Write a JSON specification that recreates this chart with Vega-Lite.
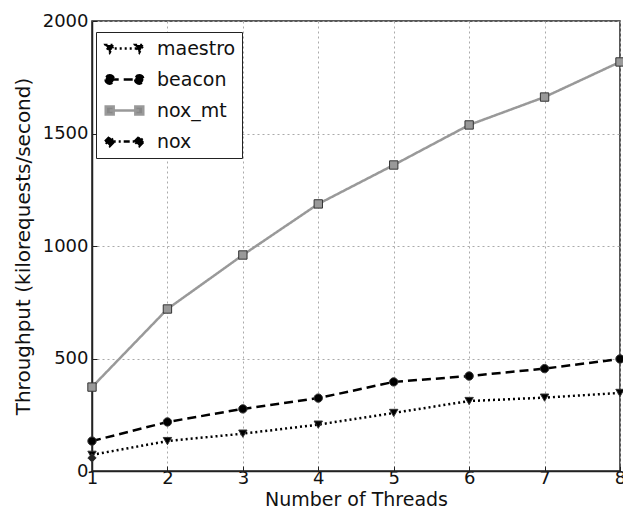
{
  "$schema": "https://vega.github.io/schema/vega-lite/v6.json",
  "width": 528,
  "height": 450,
  "autosize": "none",
  "padding": {"left": 92, "top": 21, "right": 3, "bottom": 44},
  "background": "white",
  "config": {
    "font": "DejaVu Sans",
    "view": {"stroke": "#222", "strokeWidth": 1.5},
    "axis": {
      "labelFont": "DejaVu Sans",
      "titleFont": "DejaVu Sans",
      "labelFontSize": 18,
      "titleFontSize": 18,
      "labelColor": "#111",
      "titleColor": "#111",
      "titleFontWeight": "normal",
      "grid": true,
      "gridColor": "#aaa",
      "gridDash": [2, 3],
      "gridWidth": 1,
      "domainColor": "#222",
      "domainWidth": 1.5,
      "tickColor": "#222",
      "tickSize": 5
    }
  },
  "data": {
    "values": [
      {"threads": 1, "series": "maestro", "value": 72},
      {"threads": 2, "series": "maestro", "value": 133},
      {"threads": 3, "series": "maestro", "value": 166},
      {"threads": 4, "series": "maestro", "value": 206},
      {"threads": 5, "series": "maestro", "value": 258},
      {"threads": 6, "series": "maestro", "value": 311},
      {"threads": 7, "series": "maestro", "value": 326},
      {"threads": 8, "series": "maestro", "value": 347},
      {"threads": 1, "series": "beacon", "value": 133},
      {"threads": 2, "series": "beacon", "value": 218},
      {"threads": 3, "series": "beacon", "value": 276},
      {"threads": 4, "series": "beacon", "value": 324},
      {"threads": 5, "series": "beacon", "value": 396},
      {"threads": 6, "series": "beacon", "value": 422},
      {"threads": 7, "series": "beacon", "value": 455},
      {"threads": 8, "series": "beacon", "value": 498},
      {"threads": 1, "series": "nox_mt", "value": 373},
      {"threads": 2, "series": "nox_mt", "value": 720},
      {"threads": 3, "series": "nox_mt", "value": 960},
      {"threads": 4, "series": "nox_mt", "value": 1187},
      {"threads": 5, "series": "nox_mt", "value": 1360},
      {"threads": 6, "series": "nox_mt", "value": 1538},
      {"threads": 7, "series": "nox_mt", "value": 1662},
      {"threads": 8, "series": "nox_mt", "value": 1818},
      {"threads": 1, "series": "nox", "value": 58}
    ]
  },
  "encoding": {
    "x": {
      "field": "threads",
      "type": "quantitative",
      "scale": {"domain": [1, 8], "nice": false, "zero": false},
      "axis": {"title": "Number of Threads", "titleFontSize": 19, "values": [1, 2, 3, 4, 5, 6, 7, 8], "labelPadding": 3, "titlePadding": 3, "tickSize": -5, "labelFlush": false}
    },
    "y": {
      "field": "value",
      "type": "quantitative",
      "scale": {"domain": [0, 2000], "nice": false},
      "axis": {"title": "Throughput (kilorequests/second)", "titleFontSize": 20, "format": "d", "values": [0, 500, 1000, 1500, 2000], "labelPadding": 9, "titlePadding": 9, "tickSize": -5, "labelFlush": false}
    },
    "color": {
      "field": "series",
      "type": "nominal",
      "scale": {"domain": ["beacon", "maestro", "nox", "nox_mt"], "range": ["#000000", "#000000", "#222222", "#999999"]},
      "legend": null
    }
  },
  "layer": [
    {
      "mark": {"type": "line", "strokeWidth": 2.5},
      "encoding": {
        "strokeDash": {
          "field": "series",
          "type": "nominal",
          "scale": {"domain": ["maestro", "beacon", "nox_mt", "nox"], "range": [[2, 3], [9, 5], [1, 0], [6, 3, 2, 3]]},
          "legend": {
            "title": null,
            "orient": "none",
            "legendX": 4,
            "legendY": 11,
            "strokeColor": "#222",
            "fillColor": "white",
            "padding": 6,
            "symbolOffset": 12,
            "labelOffset": 22,
            "labelFontSize": 19,
            "labelFont": "DejaVu Sans",
            "labelColor": "#111",
            "symbolSize": 342,
            "rowPadding": 10,
            "encode": {
              "symbols": {
                "update": {
                  "shape": {"signal": "datum.value === 'maestro' ? 'M-1.6,0L1.6,0M-2.05,-0.38L-1.15,-0.38L-1.6,0.42ZM1.15,-0.38L2.05,-0.38L1.6,0.42Z' : datum.value === 'beacon' ? 'M-1.6,0L1.6,0M-2.05,0A0.45,0.45 0 1,0 -1.15,0A0.45,0.45 0 1,0 -2.05,0ZM1.15,0A0.45,0.45 0 1,0 2.05,0A0.45,0.45 0 1,0 1.15,0Z' : datum.value === 'nox_mt' ? 'M-1.6,0L1.6,0M-2.03,-0.43H-1.17V0.43H-2.03ZM1.17,-0.43H2.03V0.43H1.17Z' : 'M-1.6,0L1.6,0M-2.1,0L-1.6,-0.5L-1.1,0L-1.6,0.5ZM1.1,0L1.6,-0.5L2.1,0L1.6,0.5Z'"},
                  "fill": {"signal": "datum.value === 'nox_mt' ? '#888888' : '#000000'"},
                  "stroke": {"signal": "datum.value === 'nox_mt' ? '#999999' : '#000000'"},
                  "strokeWidth": {"value": 2.5},
                  "opacity": {"value": 1}
                }
              }
            }
          }
        },
        "strokeWidth": {
          "field": "series",
          "type": "nominal",
          "scale": {"domain": ["nox_mt", "nox", "beacon", "maestro"], "range": [2.5, 2.5, 3.5, 2.5]},
          "legend": null
        }
      }
    },
    {
      "mark": {"type": "point", "filled": true, "size": 70, "opacity": 1, "stroke": "#333", "strokeWidth": 1},
      "encoding": {
        "shape": {
          "field": "series",
          "type": "nominal",
          "scale": {"domain": ["nox", "nox_mt", "maestro", "beacon"], "range": ["diamond", "square", "triangle-down", "circle"]},
          "legend": null
        }
      }
    }
  ]
}
